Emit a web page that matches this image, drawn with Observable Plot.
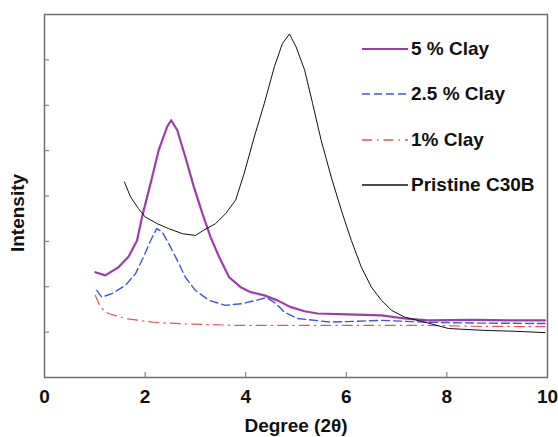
<!DOCTYPE html>
<html>
<head>
<meta charset="utf-8">
<script src="https://cdn.jsdelivr.net/npm/d3@7"></script>
<script src="https://cdn.jsdelivr.net/npm/@observablehq/plot@0.6"></script>
<style>
  html, body { margin: 0; padding: 0; background: #fff; }
  #wrap { position: relative; width: 558px; height: 437px; font-family: "Liberation Sans", Arial, sans-serif; }
  #legend { position: absolute; left: 362px; top: 26px; }
  .row { display: flex; align-items: center; height: 45.5px; font-weight: bold; font-size: 19px; color: #111; }
  .row svg { display: block; margin-right: 3px; }
</style>
</head>
<body>
<div id="wrap"><div id="legend"></div></div>
<script>
// Degree (2θ) and intensity (arbitrary units)
const pristineX = [1.59,1.71,1.87,2.0,2.24,2.47,2.74,3.0,3.17,3.4,3.6,3.8,3.97,4.17,4.37,4.57,4.73,4.87,5.0,5.17,5.33,5.5,5.7,5.9,6.1,6.3,6.5,6.7,6.9,7.16,7.56,8.03,8.7,9.3,9.95];
const pristineY = [4.31,3.98,3.72,3.54,3.39,3.28,3.17,3.13,3.25,3.39,3.61,3.91,4.5,5.3,6.04,6.85,7.36,7.57,7.29,6.78,6.04,5.23,4.42,3.69,3.02,2.43,1.99,1.7,1.48,1.33,1.22,1.08,1.04,1.02,0.99];

const clay5X = [1.01,1.21,1.47,1.67,1.84,1.94,2.11,2.27,2.44,2.52,2.64,2.8,2.97,3.14,3.3,3.47,3.67,3.9,4.1,4.37,4.63,4.9,5.17,5.43,6.03,6.7,7.16,7.63,8.5,9.3,9.95];
const clay5Y = [2.32,2.25,2.43,2.66,3.02,3.54,4.28,5.01,5.53,5.67,5.45,4.86,4.2,3.61,3.1,2.66,2.21,1.99,1.88,1.81,1.7,1.55,1.46,1.41,1.39,1.37,1.3,1.26,1.27,1.26,1.26];

const clay25X = [1.04,1.14,1.34,1.61,1.81,1.97,2.11,2.23,2.34,2.47,2.64,2.8,3.0,3.27,3.6,3.94,4.27,4.42,4.6,4.77,5.03,5.7,6.7,7.56,8.5,9.95];
const clay25Y = [1.92,1.77,1.85,2.03,2.29,2.66,3.02,3.28,3.21,2.95,2.58,2.21,1.92,1.7,1.59,1.63,1.72,1.76,1.63,1.44,1.3,1.22,1.26,1.22,1.2,1.19];

const clay1X = [1.01,1.11,1.27,1.61,2.14,2.8,3.8,4.73,5.7,7.56,8.5,9.95];
const clay1Y = [1.81,1.55,1.41,1.3,1.22,1.18,1.15,1.15,1.15,1.15,1.13,1.12];

const xTicks = [0, 2, 4, 6, 8, 10];
const yTicks = [1, 2, 3, 4, 5, 6, 7];

const series = [
  {name: "5 % Clay", xs: clay5X, ys: clay5Y, stroke: "#9a3fa6", width: 2.2, dash: null},
  {name: "2.5 % Clay", xs: clay25X, ys: clay25Y, stroke: "#3f55dd", width: 1.4, dash: "8,4"},
  {name: "1% Clay", xs: clay1X, ys: clay1Y, stroke: "#e4555a", width: 1.2, dash: "10,5,1.5,5"},
  {name: "Pristine C30B", xs: pristineX, ys: pristineY, stroke: "#111", width: 1.0, dash: null}
];

const toRows = s => s.xs.map((x, i) => ({x, y: s.ys[i]}));

const font = "Liberation Sans, Arial, sans-serif";

const plot = Plot.plot({
  width: 558,
  height: 437,
  marginLeft: 44,
  marginRight: 11,
  marginTop: 14,
  marginBottom: 60,
  style: {fontFamily: font, background: "#fff"},
  x: {domain: [0, 10]},
  y: {domain: [0, 8]},
  marks: [
    Plot.frame({stroke: "#6e6e6e", strokeWidth: 1.5}),
    Plot.axisX({ticks: [2, 4, 6, 8], tickSize: -5, tickFormat: () => "", label: null, stroke: "#6e6e6e"}),
    Plot.axisX({ticks: xTicks, tickSize: 0, tickPadding: 12, fontSize: 19, fontWeight: "bold", fill: "#111", label: null}),
    Plot.axisY({ticks: yTicks, tickSize: -5, tickFormat: () => "", label: null, stroke: "#6e6e6e"}),
    ...series.map(s => Plot.line(toRows(s), {x: "x", y: "y", stroke: s.stroke, strokeWidth: s.width, strokeDasharray: s.dash, curve: "linear"})),
    Plot.text(["Intensity"], {frameAnchor: "left", textAnchor: "middle", rotate: -90, dx: -27, dy: 17, fontSize: 19, fontWeight: "bold", fill: "#111"}),
    Plot.text(["Degree (2θ)"], {frameAnchor: "bottom", dy: 54, fontSize: 19, fontWeight: "bold", fill: "#111"})
  ]
});
document.getElementById("wrap").prepend(plot);

const legend = document.getElementById("legend");
for (const s of series) {
  const row = document.createElement("div");
  row.className = "row";
  row.innerHTML = `<svg width="46" height="6"><line x1="0" y1="3" x2="46" y2="3" stroke="${s.stroke}" stroke-width="${Math.max(s.width, 1.6)}" ${s.dash ? `stroke-dasharray="${s.dash}"` : ""}/></svg><span>${s.name}</span>`;
  legend.appendChild(row);
}
</script>
</body>
</html>
